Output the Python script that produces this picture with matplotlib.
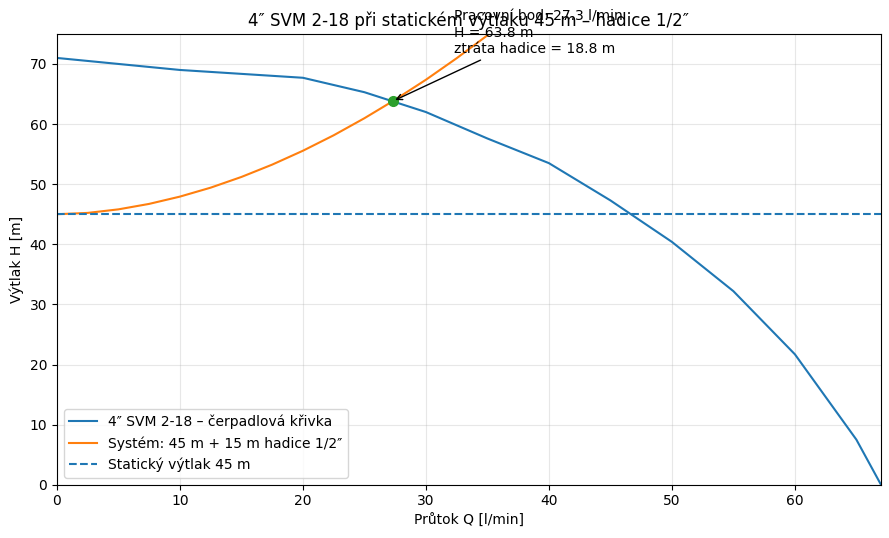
import matplotlib
matplotlib.use("Agg")
import matplotlib.pyplot as plt

# čerpadlová křivka 4" SVM 2-18
pump_q = [0, 10, 20, 25, 30, 35, 40, 45, 50, 55, 60, 65, 67]
pump_h = [71.0, 69.0, 67.7, 65.3, 62.0, 57.6, 53.5, 47.3, 40.4, 32.2, 21.7, 7.5, 0.0]

# systémová křivka: statický výtlak + ztráta v hadici
sys_q = [0, 2.5, 5, 7.5, 10, 12.5, 15, 17.5, 20, 22.5, 25, 27.3, 30, 32.5, 35, 37.5]
sys_h = [45.0, 45.22, 45.81, 46.72, 47.93, 49.42, 51.20, 53.25, 55.56, 58.13,
         60.97, 63.80, 67.37, 70.95, 74.76, 78.82]

static_h = 45
op_q = 27.3
op_h = 63.8
hose_loss = 18.8

fig, ax = plt.subplots(figsize=(8.89, 5.38), dpi=100)
fig.subplots_adjust(left=0.064, right=0.991, top=0.937, bottom=0.099)

ax.plot(pump_q, pump_h, color="C0", label="4″ SVM 2-18 – čerpadlová křivka")
ax.plot(sys_q, sys_h, color="C1", label="Systém: 45 m + 15 m hadice 1/2″")
ax.axhline(static_h, color="C0", linestyle="--", label="Statický výtlak 45 m")
ax.plot([op_q], [op_h], "o", color="C2", markersize=7)

ax.annotate(
    f"Pracovní bod: {op_q} l/min\nH = {op_h} m\nztráta hadice = {hose_loss} m",
    xy=(op_q, op_h), xytext=(op_q + 5, op_h + 8),
    arrowprops=dict(arrowstyle="->", color="black"),
)

ax.set_xlim(0, 67)
ax.set_ylim(0, 75)
ax.set_xlabel("Průtok Q [l/min]")
ax.set_ylabel("Výtlak H [m]")
ax.set_title("4″ SVM 2-18 při statickém výtlaku 45 m – hadice 1/2″")
ax.grid(True, alpha=0.3)
ax.legend(loc="lower left")

fig.savefig("out.png", dpi=100)
